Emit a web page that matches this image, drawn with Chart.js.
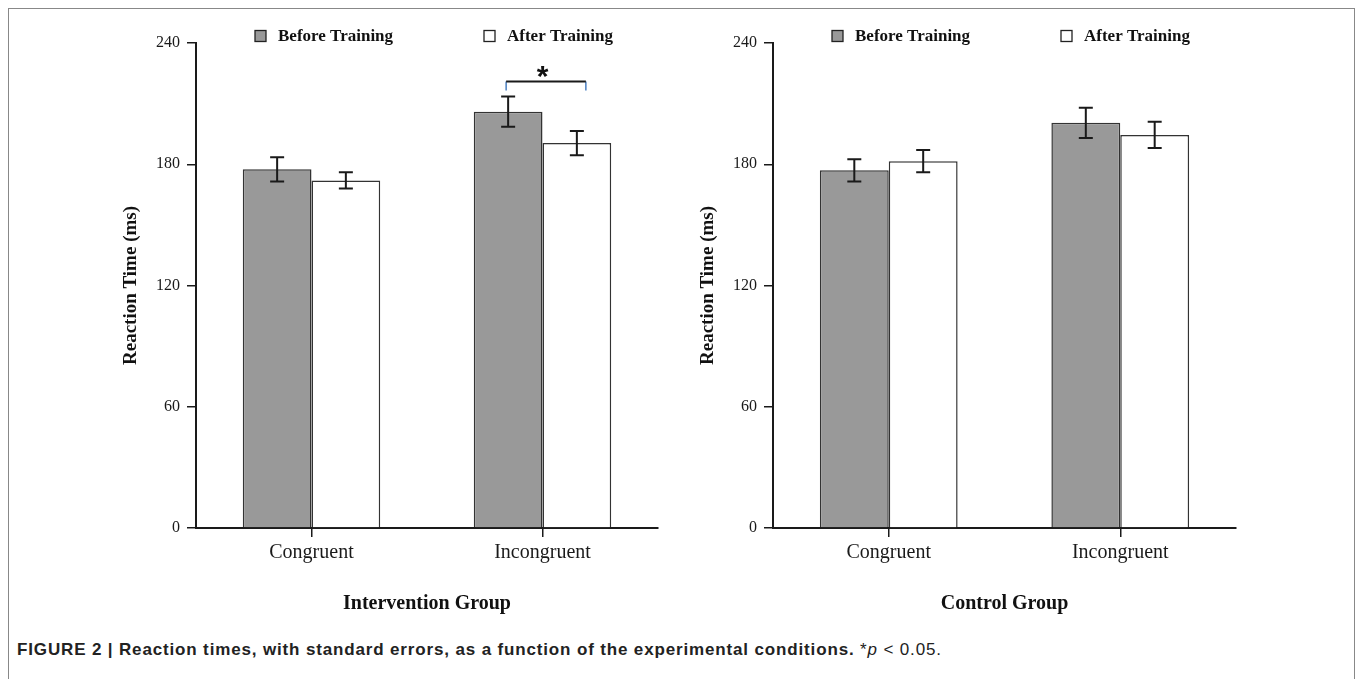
<!DOCTYPE html>
<html lang="en">
<head>
    <meta charset="UTF-8">
    <title>Reaction Times</title>
    <script src="https://cdn.jsdelivr.net/npm/chart.js"></script>
    <style>
        body {
            margin: 0;
            background: #fff;
            width: 1358px;
            height: 679px;
            overflow: hidden;
            position: relative;
        }
        .frame {
            position: absolute;
            left: 8px;
            top: 8px;
            width: 1345px;
            height: 700px;
            border: 1px solid #888;
        }
        canvas {
            position: absolute;
            top: 0;
        }
        #leftChart { left: 0; }
        #rightChart { left: 680px; }
        .caption {
            position: absolute;
            left: 17px;
            top: 640px;
            font-family: 'Liberation Sans', Arial, sans-serif;
            font-size: 17px;
            letter-spacing: 0.85px;
            color: #222;
        }
        .caption b { font-weight: bold; }
    </style>
</head>
<body>
    <div class="frame"></div>
    <canvas id="leftChart" width="680" height="640"></canvas>
    <canvas id="rightChart" width="678" height="640"></canvas>
    <div class="caption"><b>FIGURE 2 | Reaction times, with standard errors, as a function of the experimental conditions.</b> *<i>p</i> &lt; 0.05.</div>

    <script>
        const categories = ['Congruent', 'Incongruent'];
        const seriesLabels = ['Before Training', 'After Training'];
        const seriesColors = ['#999999', '#ffffff'];

        const interventionBefore = [177.5, 206];
        const interventionBeforeSE = [6, 7.5];
        const interventionAfter = [172, 190.5];
        const interventionAfterSE = [4, 6];

        const controlBefore = [177, 200.5];
        const controlBeforeSE = [5.5, 7.5];
        const controlAfter = [181.5, 194.5];
        const controlAfterSE = [5.5, 6.5];

        const yMin = 0;
        const yMax = 240;
        const yStep = 60;

        // significance bracket on the intervention group, incongruent condition
        const sigCategory = 1;
        const sigLevel = 221;
        const sigTickLevel = 216.5;

        const serif = "'Liberation Serif', 'Times New Roman', serif";

        const errorBars = {
            id: 'errorBars',
            afterDatasetsDraw(chart) {
                const ctx = chart.ctx, y = chart.scales.y;
                ctx.save();
                ctx.strokeStyle = '#1a1a1a';
                ctx.lineWidth = 2;
                chart.data.datasets.forEach((ds, i) => {
                    chart.getDatasetMeta(i).data.forEach((bar, j) => {
                        const top = y.getPixelForValue(ds.data[j] + ds.se[j]);
                        const bot = y.getPixelForValue(ds.data[j] - ds.se[j]);
                        ctx.beginPath();
                        ctx.moveTo(bar.x, top); ctx.lineTo(bar.x, bot);
                        ctx.moveTo(bar.x - 7, top); ctx.lineTo(bar.x + 7, top);
                        ctx.moveTo(bar.x - 7, bot); ctx.lineTo(bar.x + 7, bot);
                        ctx.stroke();
                    });
                });
                ctx.restore();
            }
        };

        const boxLegend = {
            id: 'boxLegend',
            afterDraw(chart) {
                const ctx = chart.ctx, left = chart.chartArea.left;
                const offsets = [59, 288];
                ctx.save();
                ctx.font = 'bold 17px ' + serif;
                ctx.textBaseline = 'middle';
                chart.data.datasets.forEach((ds, i) => {
                    const bx = left + offsets[i];
                    ctx.fillStyle = ds.backgroundColor;
                    ctx.fillRect(bx, 30.5, 11, 11);
                    ctx.strokeStyle = '#222';
                    ctx.lineWidth = 1.3;
                    ctx.strokeRect(bx, 30.5, 11, 11);
                    ctx.fillStyle = '#111';
                    ctx.fillText(ds.label, bx + 23, 37);
                });
                ctx.restore();
            }
        };

        const sigBracket = {
            id: 'sigBracket',
            afterDraw(chart, args, opts) {
                if (!opts.show) return;
                const ctx = chart.ctx, y = chart.scales.y;
                const x1 = chart.getDatasetMeta(0).data[sigCategory].x - 2;
                const x2 = chart.getDatasetMeta(1).data[sigCategory].x + 9;
                const yl = y.getPixelForValue(sigLevel);
                const yt = y.getPixelForValue(sigTickLevel);
                ctx.save();
                ctx.strokeStyle = '#4a7fc1';
                ctx.lineWidth = 1.5;
                ctx.beginPath();
                ctx.moveTo(x1, yl); ctx.lineTo(x1, yt);
                ctx.moveTo(x2, yl); ctx.lineTo(x2, yt);
                ctx.stroke();
                ctx.strokeStyle = '#1a1a1a';
                ctx.lineWidth = 2;
                ctx.beginPath();
                ctx.moveTo(x1, yl); ctx.lineTo(x2, yl);
                ctx.stroke();
                ctx.fillStyle = '#111';
                ctx.font = "bold 30px 'Liberation Sans', Arial, sans-serif";
                ctx.textAlign = 'center';
                ctx.textBaseline = 'alphabetic';
                ctx.fillText('*', chart.scales.x.getPixelForValue(sigCategory), yl + 5);
                ctx.restore();
            }
        };

        function makeChart(id, before, beforeSE, after, afterSE, groupTitle, yWidth, yTitlePad, rightPad, showSig) {
            return new Chart(document.getElementById(id), {
                type: 'bar',
                data: {
                    labels: categories,
                    datasets: [{
                        label: seriesLabels[0],
                        data: before,
                        se: beforeSE,
                        backgroundColor: seriesColors[0],
                        borderColor: '#333',
                        borderWidth: 1.5,
                    }, {
                        label: seriesLabels[1],
                        data: after,
                        se: afterSE,
                        backgroundColor: seriesColors[1],
                        borderColor: '#333',
                        borderWidth: 1.5,
                    }],
                },
                options: {
                    responsive: false,
                    animation: false,
                    devicePixelRatio: 1,
                    categoryPercentage: 0.595,
                    barPercentage: 1,
                    layout: { padding: { left: 0, top: 43, right: rightPad, bottom: 0 } },
                    plugins: {
                        legend: { display: false },
                        tooltip: { enabled: false },
                        sigBracket: { show: showSig },
                    },
                    scales: {
                        x: {
                            afterFit(scale) { scale.height = 112; },
                            grid: {
                                offset: false,
                                drawOnChartArea: false,
                                drawTicks: true,
                                tickLength: 9,
                                color: '#1a1a1a',
                                lineWidth: 1.5,
                            },
                            border: { display: true, color: '#1a1a1a', width: 2 },
                            ticks: {
                                color: '#1a1a1a',
                                padding: 4,
                                font: { family: serif, size: 20 },
                            },
                            title: {
                                display: true,
                                text: groupTitle,
                                color: '#111',
                                padding: { bottom: 24 },
                                font: { family: serif, size: 20, weight: 'bold' },
                            },
                        },
                        y: {
                            min: yMin,
                            max: yMax,
                            afterFit(scale) { scale.width = yWidth; },
                            grid: {
                                drawOnChartArea: false,
                                drawTicks: true,
                                tickLength: 9,
                                color: '#1a1a1a',
                                lineWidth: 1.5,
                            },
                            border: { display: true, color: '#1a1a1a', width: 2 },
                            ticks: {
                                stepSize: yStep,
                                color: '#1a1a1a',
                                padding: 7,
                                font: { family: serif, size: 16 },
                            },
                            title: {
                                display: true,
                                text: 'Reaction Time (ms)',
                                color: '#111',
                                padding: { top: yTitlePad },
                                font: { family: serif, size: 19, weight: 'bold' },
                            },
                        },
                    },
                },
                plugins: [errorBars, boxLegend, sigBracket],
            });
        }

        makeChart('leftChart', interventionBefore, interventionBeforeSE, interventionAfter, interventionAfterSE,
            'Intervention Group', 196, 120, 22, true);
        makeChart('rightChart', controlBefore, controlBeforeSE, controlAfter, controlAfterSE,
            'Control Group', 93, 17, 122, false);
    </script>
</body>
</html>
